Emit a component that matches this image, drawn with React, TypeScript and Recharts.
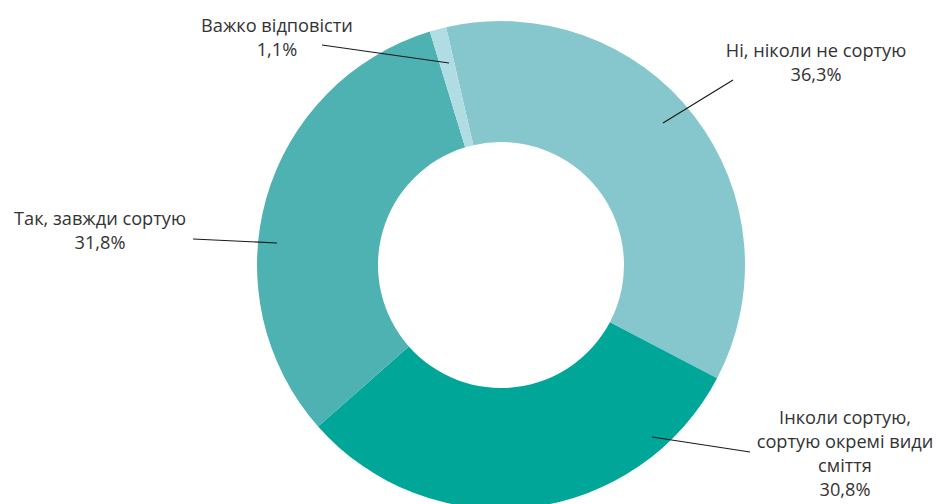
import { Pie, PieChart, Cell } from "recharts";

const categories = [
  "Ні, ніколи не сортую",
  "Інколи сортую, сортую окремі види сміття",
  "Так, завжди сортую",
  "Важко відповісти",
];
const values = [36.3, 30.8, 31.8, 1.1];
const valueLabels = ["36,3%", "30,8%", "31,8%", "1,1%"];
const labelLines = [
  ["Ні, ніколи не сортую"],
  ["Інколи сортую,", "сортую окремі види", "сміття"],
  ["Так, завжди сортую"],
  ["Важко відповісти"],
];
const colors = ["#86C7CD", "#00A697", "#4EB1B2", "#B0DDE3"];

// leader line + text placement, relative to the pie centre
const labelLayout = [
  { from: [162, -142], to: [232, -185], tx: 315, ty: -215 },
  { from: [151, 172], to: [249, 187], tx: 344, ty: 152 },
  { from: [-224, -22], to: [-308, -26], tx: -401, ty: -47 },
  { from: [-52, -202], to: [-179, -220], tx: -224, ty: -240 },
];

const data = categories.map((name, i) => ({ name, value: values[i] }));

const FONT = "'Open Sans', 'Noto Sans', sans-serif";

function renderLabel(props: any) {
  const { cx, cy, index } = props;
  const l = labelLayout[index];
  const lines = [...labelLines[index], valueLabels[index]];
  return (
    <g key={`lbl-${index}`}>
      <line
        x1={cx + l.from[0]}
        y1={cy + l.from[1]}
        x2={cx + l.to[0]}
        y2={cy + l.to[1]}
        stroke="#1a1a1a"
        strokeWidth={1.2}
      />
      {lines.map((t, j) => (
        <text
          key={j}
          x={cx + l.tx}
          y={cy + l.ty + j * 24}
          textAnchor="middle"
          dominantBaseline="central"
          fill="#333"
          fontSize={18.2}
          fontFamily={FONT}
        >
          {t}
        </text>
      ))}
    </g>
  );
}

export default function App() {
  return (
    <div style={{ width: 936, height: 504, background: "#fff" }}>
      <style>{"body{margin:0}"}</style>
      <PieChart
        width={936}
        height={504}
        margin={{ top: 0, right: 0, bottom: 0, left: 0 }}
      >
        <Pie
          data={data}
          dataKey="value"
          nameKey="name"
          cx={501}
          cy={265}
          innerRadius={123}
          outerRadius={244}
          startAngle={103}
          endAngle={-257}
          stroke="none"
          label={renderLabel}
          labelLine={false}
          isAnimationActive={false}
        >
          {data.map((d, i) => (
            <Cell key={d.name} fill={colors[i]} />
          ))}
        </Pie>
      </PieChart>
    </div>
  );
}
